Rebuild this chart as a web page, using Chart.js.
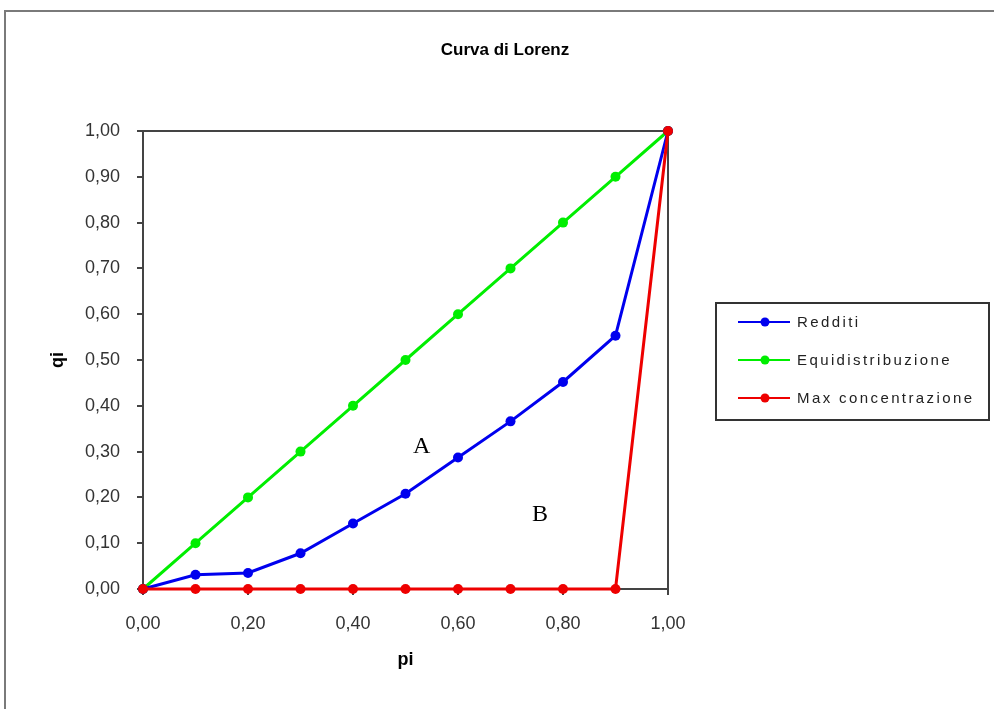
<!DOCTYPE html>
<html>
<head>
<meta charset="utf-8">
<script src="https://cdn.jsdelivr.net/npm/chart.js@4.4.1/dist/chart.umd.min.js"></script>
<style>
    html, body { margin: 0; padding: 0; background: #fff; }
    #wrap { position: relative; width: 994px; height: 709px; }
</style>
</head>
<body>
<div id="wrap"><canvas id="lorenzChart" width="994" height="709"></canvas></div>
<script>
// dati
const pi = [0, 0.1, 0.2, 0.3, 0.4, 0.5, 0.6, 0.7, 0.8, 0.9, 1.0];
const redditi = [0, 0.031, 0.035, 0.078, 0.143, 0.208, 0.287, 0.366, 0.452, 0.553, 1.0];
const equidistribuzione = [0, 0.1, 0.2, 0.3, 0.4, 0.5, 0.6, 0.7, 0.8, 0.9, 1.0];
const maxConcentrazione = [0, 0, 0, 0, 0, 0, 0, 0, 0, 0, 1.0];
const seriesNames = ["Redditi", "Equidistribuzione", "Max concentrazione"];
const seriesColors = ["#0000ee", "#00ee00", "#ee0000"];
// etichette delle aree (posizione in coordinate dati)
const areaLabels = [
    {text: "A", x: 0.531, y: 0.31},
    {text: "B", x: 0.756, y: 0.162}
];

function toPoints(values) {
    return pi.map(function (p, i) {
        return {x: p, y: values[i]};
    });
}

function fmt(v) {
    return v.toFixed(2).replace(".", ",");
}

const seriesData = [redditi, equidistribuzione, maxConcentrazione];
const tickFont = {family: "'Liberation Sans', Arial, sans-serif", size: 18};

// cornice, titolo, bordo area, lettere A/B e legenda
const decorPlugin = {
    id: "decor",
    beforeDraw: function (chart) {
        const c = chart.ctx;
        c.save();
        c.strokeStyle = "#7a7a7a";
        c.lineWidth = 2;
        c.beginPath();
        c.moveTo(5, 720);
        c.lineTo(5, 11);
        c.lineTo(1000, 11);
        c.stroke();
        c.restore();
    },
    beforeDatasetsDraw: function (chart) {
        const c = chart.ctx;
        const a = chart.chartArea;
        c.save();
        c.strokeStyle = "#444";
        c.lineWidth = 2;
        c.strokeRect(a.left, a.top, a.right - a.left, a.bottom - a.top);
        c.restore();
    },
    afterDatasetsDraw: function (chart) {
        const c = chart.ctx;
        const xs = chart.scales.x;
        const ys = chart.scales.y;
        c.save();

        // lettere A e B
        c.fillStyle = "#000";
        c.font = "24px 'Liberation Serif', 'DejaVu Serif', serif";
        c.textAlign = "center";
        c.textBaseline = "middle";
        areaLabels.forEach(function (l) {
            c.fillText(l.text, xs.getPixelForValue(l.x), ys.getPixelForValue(l.y));
        });

        // titolo
        c.font = "bold 17px 'Liberation Sans Narrow', 'Liberation Sans', Arial, sans-serif";
        c.fillText("Curva di Lorenz", 505, 50);

        // legenda
        const lx = 716, ly = 303, lw = 273, lh = 117;
        c.fillStyle = "#fff";
        c.fillRect(lx, ly, lw, lh);
        c.strokeStyle = "#333";
        c.lineWidth = 2;
        c.strokeRect(lx, ly, lw, lh);
        c.font = "15px 'Liberation Sans', Arial, sans-serif";
        c.textAlign = "left";
        if (c.letterSpacing !== undefined) c.letterSpacing = "2.4px";
        seriesNames.forEach(function (name, i) {
            const y = 322 + i * 38;
            c.strokeStyle = seriesColors[i];
            c.lineWidth = 2;
            c.beginPath();
            c.moveTo(738, y);
            c.lineTo(790, y);
            c.stroke();
            c.fillStyle = seriesColors[i];
            c.beginPath();
            c.arc(765, y, 4.5, 0, Math.PI * 2);
            c.fill();
            c.fillStyle = "#222";
            c.fillText(name, 797, y + 1);
        });
        c.restore();
    }
};

function makeDataset(i) {
    return {
        label: seriesNames[i],
        data: toPoints(seriesData[i]),
        borderColor: seriesColors[i],
        backgroundColor: seriesColors[i],
        borderWidth: 3,
        pointRadius: 5,
        pointHoverRadius: 5,
        pointBorderWidth: 0,
        tension: 0,
        fill: false,
        clip: false
    };
}

// il primo dataset viene disegnato sopra: rosso, poi blu, poi verde
new Chart(document.getElementById("lorenzChart"), {
    type: "line",
    data: {
        datasets: [makeDataset(2), makeDataset(0), makeDataset(1)]
    },
    options: {
        responsive: false,
        animation: false,
        layout: {
            padding: {left: 0, top: 131, right: 326, bottom: 0}
        },
        plugins: {
            legend: {display: false},
            title: {display: false},
            tooltip: {enabled: false}
        },
        scales: {
            x: {
                type: "linear",
                min: 0,
                max: 1,
                grid: {drawOnChartArea: false, tickLength: 6, color: "#444", lineWidth: 2},
                border: {display: true, color: "#444", width: 2},
                ticks: {
                    stepSize: 0.2,
                    padding: 18,
                    color: "#333",
                    font: tickFont,
                    callback: function (v) { return fmt(v); }
                },
                title: {
                    display: true,
                    text: "pi",
                    color: "#000",
                    font: {family: "'Liberation Sans', Arial, sans-serif", size: 18, weight: "bold"},
                    padding: {top: 0, bottom: 38}
                },
                afterFit: function (s) { s.height = 120; }
            },
            y: {
                type: "linear",
                min: 0,
                max: 1,
                grid: {drawOnChartArea: false, tickLength: 6, color: "#444", lineWidth: 2},
                border: {display: true, color: "#444", width: 2},
                ticks: {
                    stepSize: 0.1,
                    padding: 17,
                    color: "#333",
                    font: tickFont,
                    callback: function (v) { return fmt(v); }
                },
                title: {
                    display: true,
                    text: "qi",
                    color: "#000",
                    font: {family: "'Liberation Sans', Arial, sans-serif", size: 18, weight: "bold"},
                    padding: {top: 47, bottom: 0}
                },
                afterFit: function (s) { s.width = 143; }
            }
        }
    },
    plugins: [decorPlugin]
});
</script>
</body>
</html>
